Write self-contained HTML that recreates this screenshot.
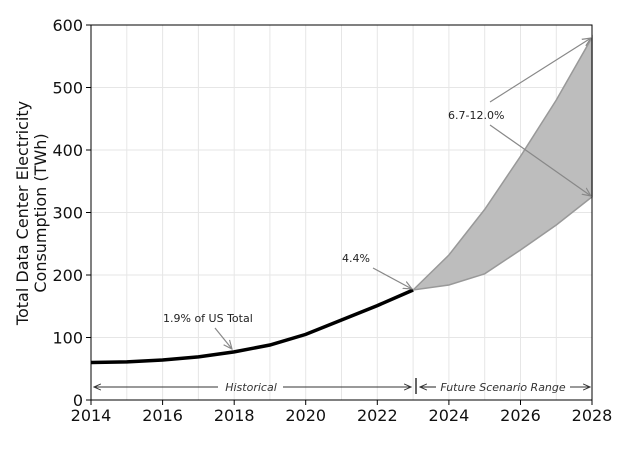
<!DOCTYPE html><html><head><style>body{margin:0;background:#fff}svg{font-family:"DejaVu Sans","Liberation Sans",sans-serif}</style></head><body>
<svg width="624" height="444" viewBox="0 0 624 444">
<defs><marker id="a" viewBox="0 0 10 10" refX="9" refY="5" markerWidth="7" markerHeight="7" orient="auto-start-reverse"><path d="M0,1 L9,5 L0,9" fill="none" stroke="#333" stroke-width="1.3"/></marker>
<marker id="g" viewBox="0 0 10 10" refX="9" refY="5" markerWidth="8" markerHeight="8" orient="auto"><path d="M0,1 L9,5 L0,9" fill="none" stroke="#888" stroke-width="1.2"/></marker></defs>
<g stroke="#e6e6e6" stroke-width="1">
<line x1="126.8" y1="25" x2="126.8" y2="400"/><line x1="162.6" y1="25" x2="162.6" y2="400"/><line x1="198.4" y1="25" x2="198.4" y2="400"/><line x1="234.2" y1="25" x2="234.2" y2="400"/><line x1="269.9" y1="25" x2="269.9" y2="400"/><line x1="305.7" y1="25" x2="305.7" y2="400"/><line x1="341.5" y1="25" x2="341.5" y2="400"/><line x1="377.3" y1="25" x2="377.3" y2="400"/><line x1="413.1" y1="25" x2="413.1" y2="400"/><line x1="448.9" y1="25" x2="448.9" y2="400"/><line x1="484.7" y1="25" x2="484.7" y2="400"/><line x1="520.5" y1="25" x2="520.5" y2="400"/><line x1="556.3" y1="25" x2="556.3" y2="400"/>
<line x1="91" y1="337.5" x2="592" y2="337.5"/><line x1="91" y1="275" x2="592" y2="275"/><line x1="91" y1="212.5" x2="592" y2="212.5"/><line x1="91" y1="150" x2="592" y2="150"/><line x1="91" y1="87.5" x2="592" y2="87.5"/>
</g>
<polygon points="413.1,290 448.9,255 484.7,209.4 520.5,156.3 556.3,100 592,37.5 592,196.9 556.3,225 520.5,250 484.7,273.8 448.9,285 413.1,290" fill="#bdbdbd" stroke="#999" stroke-width="1.5"/>
<polyline points="91,362.5 126.8,361.9 162.6,360 198.4,356.9 234.2,351.9 269.9,345 305.7,334.4 341.5,320 377.3,305.6 413.1,290" fill="none" stroke="#000" stroke-width="3.5"/>
<rect x="91" y="25" width="501" height="375" fill="none" stroke="#000" stroke-width="1"/>
<g stroke="#000"><line x1="91" y1="400" x2="91" y2="405"/><line x1="162.6" y1="400" x2="162.6" y2="405"/><line x1="234.2" y1="400" x2="234.2" y2="405"/><line x1="305.7" y1="400" x2="305.7" y2="405"/><line x1="377.3" y1="400" x2="377.3" y2="405"/><line x1="448.9" y1="400" x2="448.9" y2="405"/><line x1="520.5" y1="400" x2="520.5" y2="405"/><line x1="592" y1="400" x2="592" y2="405"/>
<line x1="86" y1="400" x2="91" y2="400"/><line x1="86" y1="337.5" x2="91" y2="337.5"/><line x1="86" y1="275" x2="91" y2="275"/><line x1="86" y1="212.5" x2="91" y2="212.5"/><line x1="86" y1="150" x2="91" y2="150"/><line x1="86" y1="87.5" x2="91" y2="87.5"/><line x1="86" y1="25" x2="91" y2="25"/></g>
<g font-size="16" text-anchor="middle" fill="#111"><text x="91" y="421">2014</text><text x="162.6" y="421">2016</text><text x="234.2" y="421">2018</text><text x="305.7" y="421">2020</text><text x="377.3" y="421">2022</text><text x="448.9" y="421">2024</text><text x="520.5" y="421">2026</text><text x="592" y="421">2028</text></g>
<g font-size="16" text-anchor="end" fill="#111"><text x="83" y="406">0</text><text x="83" y="343.5">100</text><text x="83" y="281">200</text><text x="83" y="218.5">300</text><text x="83" y="156">400</text><text x="83" y="93.5">500</text><text x="83" y="31">600</text></g>
<g font-size="16" text-anchor="middle" fill="#111" transform="translate(28,213) rotate(-90)"><text x="0" y="0">Total Data Center Electricity</text><text x="0" y="18">Consumption (TWh)</text></g>
<g font-size="11" fill="#222"><text x="163" y="322">1.9% of US Total</text><text x="342" y="262">4.4%</text><text x="448" y="119">6.7-12.0%</text></g>
<g stroke="#888" stroke-width="1.2" fill="none"><line x1="215" y1="328" x2="232" y2="349" marker-end="url(#g)"/><line x1="373" y1="268" x2="412" y2="289" marker-end="url(#g)"/><line x1="490" y1="102" x2="591" y2="38" marker-end="url(#g)"/><line x1="490" y1="125" x2="591" y2="196" marker-end="url(#g)"/></g>
<g stroke="#333" stroke-width="1.1"><line x1="94" y1="387" x2="218" y2="387" marker-start="url(#a)"/><line x1="283" y1="387" x2="411" y2="387" marker-end="url(#a)"/><line x1="416" y1="378" x2="416" y2="394" stroke-width="1.5"/><line x1="420" y1="387" x2="436" y2="387" marker-start="url(#a)"/><line x1="570" y1="387" x2="590" y2="387" marker-end="url(#a)"/></g>
<g font-size="11" font-style="italic" fill="#333" text-anchor="middle"><text x="251" y="391">Historical</text><text x="503" y="391">Future Scenario Range</text></g>
</svg></body></html>
